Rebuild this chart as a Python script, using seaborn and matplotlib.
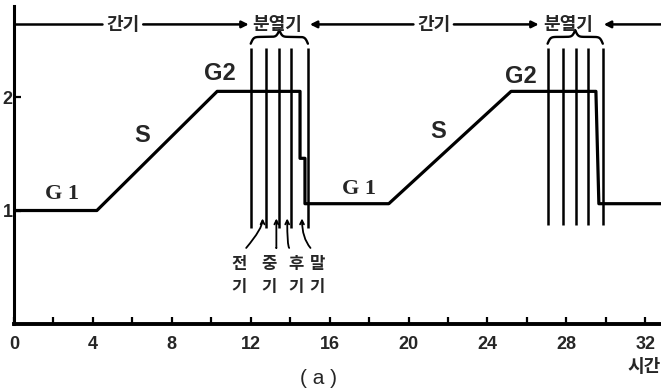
import numpy as np
import matplotlib
matplotlib.use("Agg")
import matplotlib.pyplot as plt
import seaborn as sns

# DNA content over time through two cell cycles
time = [0, 4.2, 10.3, 14.5, 14.5, 14.75, 14.75, 19.0, 25.2, 29.5, 29.65, 32.8]
dna = [1.0, 1.0, 2.05, 2.05, 1.46, 1.46, 1.06, 1.06, 2.05, 2.05, 1.06, 1.06]

# mitosis sub-phase boundaries
mitosis_1 = [12.0, 12.75, 13.45, 14.05, 14.9]
mitosis_2 = [27.05, 27.85, 28.5, 29.1, 29.85]

# phase labels on the curve
phase_text = ["G 1", "S", "G2", "G 1", "S", "G2"]
phase_x = [2.44, 6.5, 10.45, 17.5, 21.5, 25.7]
phase_y = [1.145, 1.66, 2.21, 1.19, 1.70, 2.18]

# mitosis stage names and where their pointers go
stage_names = ["전기", "중기", "후기", "말기"]
stage_x = [11.42, 12.95, 14.3, 15.38]
stage_tip = [12.6, 13.3, 13.85, 14.6]

# top timeline band
band_labels = ["간기", "분열기", "간기", "분열기"]
band_x = [5.5, 13.35, 21.3, 28.1]
band_heads = [11.9, 15.0, 26.6, 29.9]
band_tails = [6.55, 20.25, 22.3, 32.8]
band_start = [0.0, 4.47]

x_ticks = [0, 4, 8, 12, 16, 20, 24, 28, 32]
y_ticks = [1, 2]

sns.set_style("ticks")
plt.rcParams["font.family"] = ["Liberation Sans", "Noto Sans CJK KR", "DejaVu Sans"]
KR = ["Noto Sans CJK KR", "DejaVu Sans"]

fig = plt.figure(figsize=(6.61, 3.91), dpi=100)
ax = fig.add_axes([0.0212, 0.1714, 0.9788, 0.8126])

sns.lineplot(x=time, y=dna, sort=False, estimator=None, color="black",
             linewidth=2.3, ax=ax)

ax.vlines(mitosis_1, 0.85, 2.43, color="black", linewidth=1.8)
ax.vlines(mitosis_2, 0.87, 2.43, color="black", linewidth=1.8)


def brace(x0, x1, base, h, beta=14.0):
    xs = np.linspace(x0, x1, 201)
    half = xs[:101]
    yh = (1 / (1 + np.exp(-beta * (half - half[0])))
          + 1 / (1 + np.exp(-beta * (half - half[-1]))))
    ys = np.concatenate([yh, yh[-2::-1]])
    ax.plot(xs, base + (ys - 0.5) * h, color="black", linewidth=1.7,
            solid_capstyle="round")


brace(mitosis_1[0], mitosis_1[-1], 2.47, 0.12)
brace(mitosis_2[0], mitosis_2[-1], 2.47, 0.12)

for t, x, y in zip(phase_text, phase_x, phase_y):
    if t.startswith("G 1"):
        ax.text(x, y, t, ha="center", va="center", fontsize=16,
                fontweight="bold", family=["Liberation Serif"])
    else:
        ax.text(x, y, t, ha="center", va="center", fontsize=17,
                fontweight="bold", family=["Liberation Sans"])

# mitosis stage names with pointers
for name, sx, tip in zip(stage_names, stage_x, stage_tip):
    ax.text(sx, 0.43, "\n".join(name), ha="center", va="center",
            fontsize=12, fontweight="bold", family=KR, linespacing=1.35)
    start_x = sx + 0.35 if tip > sx else sx - 0.35
    ang = 50 if tip > sx else 130
    ax.annotate("", xy=(tip, 0.93), xytext=(start_x, 0.67),
                arrowprops=dict(arrowstyle="->", color="black", lw=1.3,
                                shrinkA=0, shrinkB=0, mutation_scale=7,
                                connectionstyle=f"angle3,angleA={ang},angleB=90"),
                annotation_clip=False)

# top timeline
band_y = 2.64
ax.plot(band_start, [band_y, band_y], color="black", linewidth=1.8)
for head, tail in zip(band_heads, band_tails):
    ax.annotate("", xy=(head, band_y), xytext=(tail, band_y),
                arrowprops=dict(arrowstyle="-|>", color="black", lw=1.8,
                                shrinkA=0, shrinkB=0, mutation_scale=10),
                annotation_clip=False)
for lab, x in zip(band_labels, band_x):
    ax.text(x, band_y, lab, ha="center", va="center", fontsize=13,
            fontweight="bold", family=KR)

ax.set_xlim(0, 32.8)
ax.set_ylim(0, 2.8)
ax.set_xticks(x_ticks)
ax.set_xticks(np.arange(2, 33, 4), minor=True)
ax.set_yticks(y_ticks)
ax.set_xticklabels([str(v) for v in x_ticks], fontsize=13, fontweight="bold")
ax.set_yticklabels([str(v) for v in y_ticks], fontsize=13, fontweight="bold")
ax.tick_params(axis="both", which="both", direction="in", length=5,
               width=1.6, color="black")
ax.tick_params(axis="x", pad=9)
ax.tick_params(axis="y", pad=1)

sns.despine(ax=ax)
ax.spines["left"].set_linewidth(2.2)
ax.spines["bottom"].set_linewidth(2.8)
ax.spines["left"].set_color("black")
ax.spines["bottom"].set_color("black")
ax.set_xlabel("")
ax.set_ylabel("")

fig.text(318 / 661, 1 - 378 / 391, "( a )", ha="center", va="center",
         fontsize=15, family=["Liberation Sans"])
fig.text(0.999, 1 - 367 / 391, "시간", ha="right", va="center",
         fontsize=13, fontweight="bold", family=KR)

fig.savefig("out.png", dpi=100, facecolor="white")
